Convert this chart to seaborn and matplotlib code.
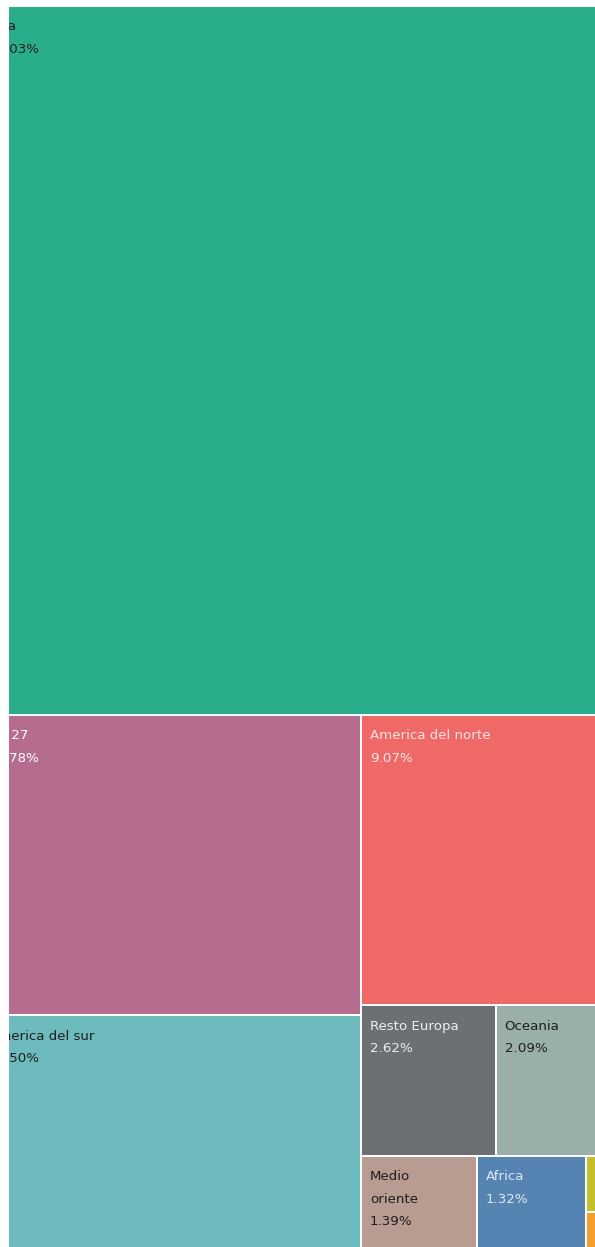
import matplotlib
matplotlib.use("Agg")
import matplotlib.pyplot as plt
from matplotlib.patches import Rectangle
import seaborn as sns

# ---- data ----
regions = ["Asia", "UE 27", "America del sur", "America del norte",
           "Resto Europa", "Oceania", "Medio oriente", "Africa",
           "Centro America", "Otros"]
shares = [57.03, 14.78, 11.50, 9.07, 2.62, 2.09, 1.39, 1.32, 0.12, 0.08]
colors = ["#2aad8a", "#b56c8e", "#6dbbbd", "#ef6a67", "#6d7072",
          "#9aafa8", "#b89b91", "#5584b3", "#c3bf2a", "#f59d2e"]
text_colors = ["#1e1e1e", "#ffffff", "#1e1e1e", "#fbe3e3", "#eeeeee",
               "#1e1e1e", "#1e1e1e", "#dfe8f2", "#1e1e1e", "#1e1e1e"]

val = dict(zip(regions, shares))

# nested slice layout (orientation 'v' = stacked top->bottom, 'h' = left->right)
tree = ("v", ["Asia",
              ("h", [("v", ["UE 27", "America del sur"]),
                     ("v", ["America del norte",
                            ("h", ["Resto Europa", "Oceania"]),
                            ("h", ["Medio oriente", "Africa",
                                   ("v", ["Centro America", "Otros"])])])])])


def total(node):
    if isinstance(node, str):
        return val[node]
    return sum(total(c) for c in node[1])


def layout(node, x, y, w, h, out):
    if isinstance(node, str):
        out[node] = (x, y, w, h)
        return
    orient, children = node
    s = total(node)
    pos = 0.0
    for c in children:
        f = total(c) / s
        if orient == "v":
            layout(c, x, y + pos * h, w, f * h, out)
        else:
            layout(c, x + pos * w, y, f * w, h, out)
        pos += f


rects = {}
# treemap extent (pixel-like units; partially outside the visible window)
layout(tree, -20, 6, 623, 1243, rects)

W, H = 595, 1247
sns.set_style("white")
plt.rcParams["font.family"] = ["DejaVu Sans"]
FS = 9.6
fig = plt.figure(figsize=(W / 100, H / 100), dpi=100)
ax = fig.add_axes([9 / W, 0, (W - 9) / W, 1])
ax.set_xlim(9, W)
ax.set_ylim(H, 0)
ax.axis("off")

fig.canvas.draw()
renderer = fig.canvas.get_renderer()

for name, col, tc in zip(regions, colors, text_colors):
    x, y, w, h = rects[name]
    ax.add_patch(Rectangle((x, y), w, h, facecolor=col, edgecolor="white",
                           linewidth=1.4))
    if w < 40 or h < 40:
        continue
    label = name
    t = ax.text(0, 0, label, fontsize=FS)
    bb = t.get_window_extent(renderer)
    t.remove()
    if bb.width > w - 24:
        label = label.replace(" ", "\n")
    lines = label.split("\n") + [f"{val[name]:.2f}%"]
    for i, ln in enumerate(lines):
        ax.text(x + 9, y + 21 + 22.5 * i, ln, fontsize=FS, color=tc,
                va="center", ha="left", clip_on=True)

# white margin on the left edge (view window crops the treemap)
fig.patches.append(Rectangle((0, 0), 9 / W, 1, transform=fig.transFigure,
                             facecolor="white", edgecolor="none",
                             zorder=10, figure=fig))

fig.savefig("out.png", dpi=100, facecolor="white")
